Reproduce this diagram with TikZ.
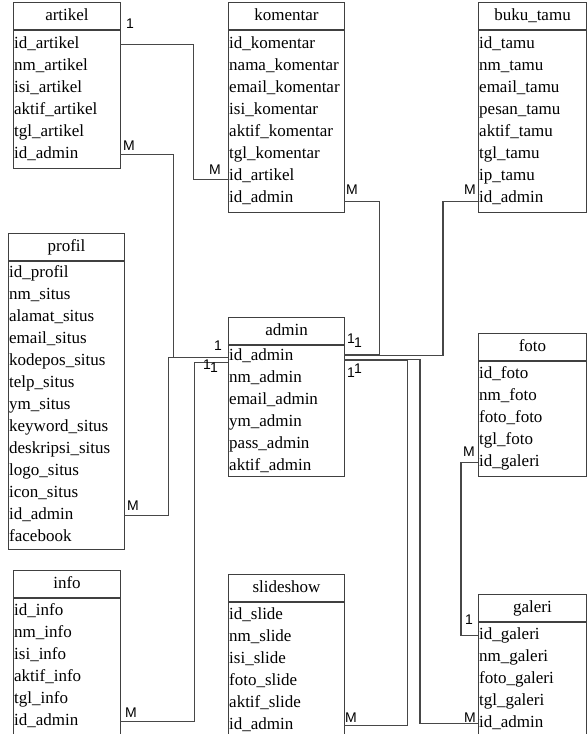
\documentclass[tikz,border=0pt]{standalone}
\usepackage{fontspec}
\setmainfont{Liberation Serif}
\newfontfamily\cardfont{Liberation Sans}
\usetikzlibrary{calc}

\begin{document}
\begin{tikzpicture}[x=1pt, y=-1pt,
	tbltitle/.style={draw=black!75, line width=1pt, anchor=north west, minimum height=27pt, inner sep=0pt, text height=11.5pt, text depth=3.5pt, font=\fontsize{17}{19}\selectfont},
	tblbody/.style={draw=black!75, line width=1pt, anchor=north west, inner sep=0pt},
	fld/.style={anchor=north west, minimum height=22pt, inner xsep=1pt, inner ysep=0pt, text height=11.5pt, text depth=3.5pt, align=left, font=\fontsize{17}{19}\selectfont},
	rel/.style={draw=black!72, line width=1.1pt},
	card/.style={inner sep=0pt, font=\cardfont\fontsize{14}{14}\selectfont}]
			\useasboundingbox (0,0) rectangle (588,734);

			% tables
			\draw (13, 2) 	node[tbltitle, minimum width=107pt] 	(artikel) 	{artikel};
			\draw (artikel.south west) 	node[tblbody, minimum width=107pt, minimum height=138pt] 	(artikelbody) 	{};
			\foreach \f [count=\i] in {id\_artikel, nm\_artikel, isi\_artikel, aktif\_artikel, tgl\_artikel, id\_admin}
				\node[fld, text width=105pt] (artikel\i) at ($(artikel.south west)+(0,{3+22*(\i-1)})$) {\f};

			\draw (228, 2) 	node[tbltitle, minimum width=116pt] 	(komentar) 	{komentar};
			\draw (komentar.south west) 	node[tblbody, minimum width=116pt, minimum height=182pt] 	(komentarbody) 	{};
			\foreach \f [count=\i] in {id\_komentar, nama\_komentar, email\_komentar, isi\_komentar, aktif\_komentar, tgl\_komentar, id\_artikel, id\_admin}
				\node[fld, text width=114pt] (komentar\i) at ($(komentar.south west)+(0,{3+22*(\i-1)})$) {\f};

			\draw (478, 2) 	node[tbltitle, minimum width=108pt] 	(bukutamu) 	{buku\_tamu};
			\draw (bukutamu.south west) 	node[tblbody, minimum width=108pt, minimum height=182pt] 	(bukutamubody) 	{};
			\foreach \f [count=\i] in {id\_tamu, nm\_tamu, email\_tamu, pesan\_tamu, aktif\_tamu, tgl\_tamu, ip\_tamu, id\_admin}
				\node[fld, text width=106pt] (bukutamu\i) at ($(bukutamu.south west)+(0,{3+22*(\i-1)})$) {\f};

			\draw (8, 233) 	node[tbltitle, minimum width=116pt] 	(profil) 	{profil};
			\draw (profil.south west) 	node[tblbody, minimum width=116pt, minimum height=288pt] 	(profilbody) 	{};
			\foreach \f [count=\i] in {id\_profil, nm\_situs, alamat\_situs, email\_situs, kodepos\_situs, telp\_situs, ym\_situs, keyword\_situs, deskripsi\_situs, logo\_situs, icon\_situs, id\_admin, facebook}
				\node[fld, text width=114pt] (profil\i) at ($(profil.south west)+(0,{1+22*(\i-1)})$) {\f};

			\draw (228, 317) 	node[tbltitle, minimum width=116pt] 	(admin) 	{admin};
			\draw (admin.south west) 	node[tblbody, minimum width=116pt, minimum height=131pt] 	(adminbody) 	{};
			\foreach \f [count=\i] in {id\_admin, nm\_admin, email\_admin, ym\_admin, pass\_admin, aktif\_admin}
				\node[fld, text width=114pt] (admin\i) at ($(admin.south west)+(0,{22*(\i-1)})$) {\f};

			\draw (478, 333) 	node[tbltitle, minimum width=108pt] 	(foto) 	{foto};
			\draw (foto.south west) 	node[tblbody, minimum width=108pt, minimum height=115pt] 	(fotobody) 	{};
			\foreach \f [count=\i] in {id\_foto, nm\_foto, foto\_foto, tgl\_foto, id\_galeri}
				\node[fld, text width=106pt] (foto\i) at ($(foto.south west)+(0,{2+22*(\i-1)})$) {\f};

			\draw (13, 570) 	node[tbltitle, minimum width=107pt] 	(info) 	{info};
			\draw (info.south west) 	node[tblbody, minimum width=107pt, minimum height=138pt] 	(infobody) 	{};
			\foreach \f [count=\i] in {id\_info, nm\_info, isi\_info, aktif\_info, tgl\_info, id\_admin}
				\node[fld, text width=105pt] (info\i) at ($(info.south west)+(0,{2+22*(\i-1)})$) {\f};

			\draw (228, 574) 	node[tbltitle, minimum width=116pt] 	(slideshow) 	{slideshow};
			\draw (slideshow.south west) 	node[tblbody, minimum width=116pt, minimum height=138pt] 	(slideshowbody) 	{};
			\foreach \f [count=\i] in {id\_slide, nm\_slide, isi\_slide, foto\_slide, aktif\_slide, id\_admin}
				\node[fld, text width=114pt] (slideshow\i) at ($(slideshow.south west)+(0,{2+22*(\i-1)})$) {\f};

			\draw (478, 594) 	node[tbltitle, minimum width=108pt] 	(galeri) 	{galeri};
			\draw (galeri.south west) 	node[tblbody, minimum width=108pt, minimum height=116pt] 	(galeribody) 	{};
			\foreach \f [count=\i] in {id\_galeri, nm\_galeri, foto\_galeri, tgl\_galeri, id\_admin}
				\node[fld, text width=106pt] (galeri\i) at ($(galeri.south west)+(0,{2+22*(\i-1)})$) {\f};

			% relations
			\draw[rel] (artikel1.east) -- ++(73,0) |- ($(komentar7.west)+(0,3)$);
			\draw[rel] (artikel6.east) -- ++(53,0) |- ($(admin1.west)+(0,1)$);
			\draw[rel] (profil12.east) -- ++(44,0) |- ($(admin1.west)+(0,1)$);
			\draw[rel] (info6.east) -- ++(74,0) |- ($(admin1.west)+(0,6)$);
			\draw[rel] ($(komentar8.east)+(0,3)$) -- ++(35,0) |- ($(admin1.east)+(0,-2)$);
			\draw[rel] ($(bukutamu8.west)+(0,3)$) -- ++(-35,0) |- ($(admin1.east)+(0,-1)$);
			\draw[rel] (slideshow6.east) -- ++(63,0) |- ($(admin1.east)+(0,4)$);
			\draw[rel] (galeri5.west) -- ++(-58,0) |- ($(admin1.east)+(0,3)$);
			\draw[rel] (foto5.west) -- ++(-17,0) |- (galeri1.west);

			% cardinalities
			\node[card] (c1) at (130, 24) {1};
			\node[card] (c2) at (215, 170) {M};
			\node[card] (c3) at (129, 146) {M};
			\node[card] (c4) at (218, 346) {1};
			\node[card] (c5) at (133, 506) {M};
			\node[card] (c6) at (207, 365) {1};
			\node[card] (c7) at (214, 368) {1};
			\node[card] (c8) at (131, 713) {M};
			\node[card] (c9) at (352, 190) {M};
			\node[card] (c10) at (470, 190) {M};
			\node[card] (c11) at (351, 339) {1};
			\node[card] (c12) at (358, 343) {1};
			\node[card] (c13) at (351, 373) {1};
			\node[card] (c14) at (358, 369) {1};
			\node[card] (c15) at (351, 718) {M};
			\node[card] (c16) at (470, 718) {M};
			\node[card] (c17) at (469, 452) {M};
			\node[card] (c18) at (469, 620) {1};
\end{tikzpicture}
\end{document}
